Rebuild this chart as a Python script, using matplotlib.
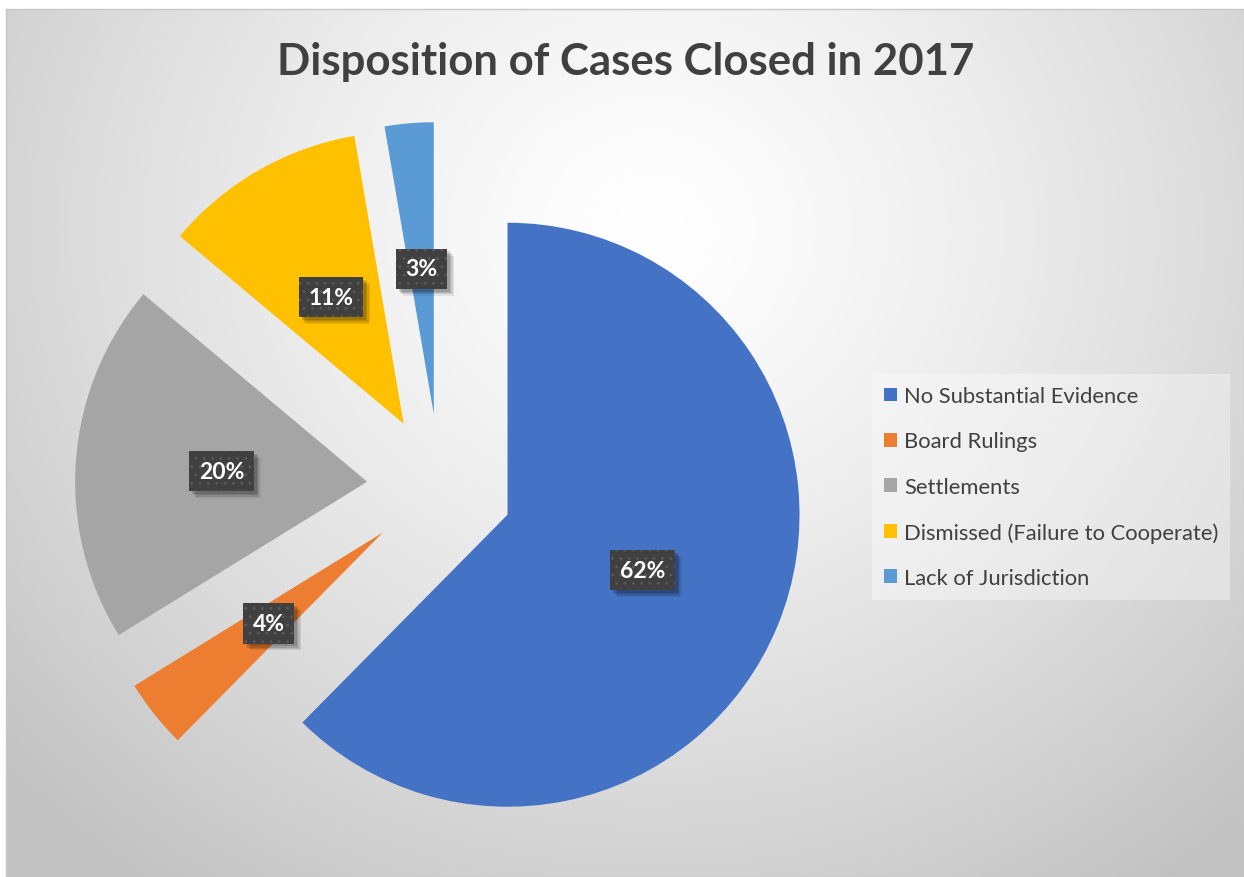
import numpy as np
import matplotlib
matplotlib.use("Agg")
import matplotlib.pyplot as plt
import matplotlib.patheffects as pe

categories = ["No Substantial Evidence", "Board Rulings", "Settlements",
              "Dismissed (Failure to Cooperate)", "Lack of Jurisdiction"]
values = [62.4, 3.8, 19.9, 11.2, 2.7]
colors = ["#4472C4", "#ED7D31", "#A5A5A5", "#FFC000", "#5B9BD5"]
title = "Disposition of Cases Closed in 2017"

plt.rcParams["hatch.linewidth"] = 0.9

W, H = 1244, 878
fig = plt.figure(figsize=(W / 100, H / 100), dpi=100, facecolor="white")

# background gradient panel
bx0, btop = 6, 10
bg = fig.add_axes([bx0 / W, 0, 1 - bx0 / W, 1 - btop / H], zorder=0)
yy, xx = np.mgrid[btop:H, bx0:W]
t = np.sqrt(((xx - 650) / 700.0) ** 2 + ((yy - 230) / 650.0) ** 2)
g = np.clip(1 - 0.18 * t ** 1.3, 0.76, 1.0)
img = np.dstack([g, g, g])
bg.imshow(img, aspect="auto", interpolation="bilinear", extent=[0, 1, 0, 1])
bg.set_xlim(0, 1); bg.set_ylim(0, 1)
bg.set_xticks([]); bg.set_yticks([])
for s in bg.spines.values():
    s.set_color("#c8c8c8"); s.set_linewidth(1.0)

# pie axes (data units = pie radius)
R = 292.0
cx, cy = 440.0, 488.0
ax = fig.add_axes([0, 0, 1, 1], zorder=1)
ax.patch.set_alpha(0)
wedges, texts, autotexts = ax.pie(
    values, colors=colors, startangle=90, counterclock=False,
    explode=[0.25] * len(values), radius=1.0,
    autopct="%.0f%%", pctdistance=0.5,
    wedgeprops=dict(linewidth=0),
    textprops=dict(color="white", fontsize=16.5, fontweight="bold", family="Lato"))
ax.set_aspect("auto")
ax.set_xlim(-cx / R, (W - cx) / R)
ax.set_ylim(-(H - cy) / R, cy / R)
ax.axis("off")

for at in autotexts:
    at.set_bbox(dict(boxstyle="square,pad=0.42", fc="#404040", ec="#585858",
                     lw=0, hatch=".."))
    at.get_bbox_patch().set_path_effects([
        pe.SimplePatchShadow(offset=(5, -5), shadow_rgbFace="black", alpha=0.08, hatch=None),
        pe.SimplePatchShadow(offset=(4, -4), shadow_rgbFace="black", alpha=0.10, hatch=None),
        pe.SimplePatchShadow(offset=(3, -3), shadow_rgbFace="black", alpha=0.12, hatch=None),
        pe.SimplePatchShadow(offset=(2, -2), shadow_rgbFace="black", alpha=0.12, hatch=None),
        pe.Normal()])

# title
fig.text(626 / W, 1 - 62 / H, title, ha="center", va="center",
         fontsize=31.5, fontweight="bold", color="#404040", family="Lato")

# legend
leg = ax.legend(wedges, categories, loc="center left",
                bbox_to_anchor=(872 / W, 1 - 488 / H), bbox_transform=fig.transFigure,
                frameon=True, fancybox=False, framealpha=0.35, facecolor="white",
                edgecolor="none", borderaxespad=0, borderpad=0.55,
                handlelength=0.6, handleheight=0.6, handletextpad=0.3,
                labelspacing=1.15, prop=dict(family="Lato", size=15.8))
for txt in leg.get_texts():
    txt.set_color("#404040")

fig.savefig("out.png", dpi=100, facecolor="white")
